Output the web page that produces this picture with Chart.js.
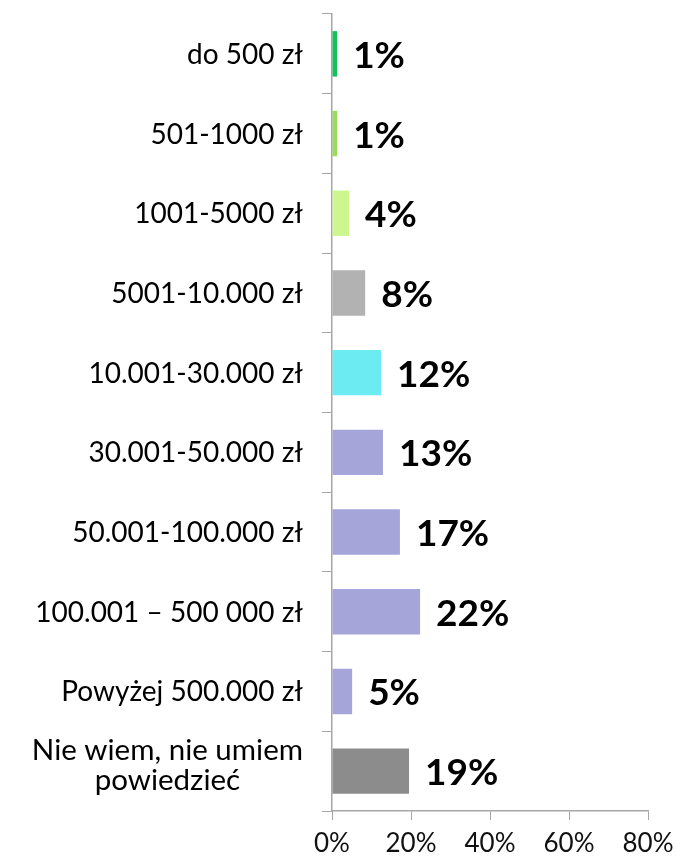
<!DOCTYPE html>
<html>
<head>
<meta charset="utf-8">
<script src="https://cdn.jsdelivr.net/npm/chart.js@4"></script>
<style>
  html, body { margin: 0; padding: 0; background: #fff; }
  #wrap { width: 677px; height: 861px; }
</style>
</head>
<body>
<div id="wrap"><canvas id="chart" width="677" height="861"></canvas></div>
<script>
// wartości
const kategorie = [
  'do 500 zł',
  '501-1000 zł',
  '1001-5000 zł',
  '5001-10.000 zł',
  '10.001-30.000 zł',
  '30.001-50.000 zł',
  '50.001-100.000 zł',
  '100.001 – 500 000 zł',
  'Powyżej 500.000 zł',
  ['Nie wiem, nie umiem', 'powiedzieć']
];
const wartosci = [1.3, 1.3, 4.3, 8.4, 12.4, 12.9, 17.2, 22.3, 5.1, 19.5];
const etykiety = ['1%', '1%', '4%', '8%', '12%', '13%', '17%', '22%', '5%', '19%'];
const kolory = ['#12c15a', '#9add5c', '#ccf78f', '#b2b2b2', '#6cebf3',
                '#a6a5d9', '#a6a5d9', '#a6a5d9', '#a6a5d9', '#8c8c8c'];
const osX = [0, 20, 40, 60, 80];

const FONT = 'Lato, "Open Sans", sans-serif';

// etykiety wartości przy słupkach
const valueLabels = {
  id: 'valueLabels',
  afterDatasetsDraw(chart) {
    const ctx = chart.ctx;
    const meta = chart.getDatasetMeta(0);
    ctx.save();
    ctx.font = 'bold 37px ' + FONT;
    ctx.fillStyle = '#000';
    ctx.textAlign = 'left';
    ctx.textBaseline = 'alphabetic';
    meta.data.forEach((bar, i) => {
      ctx.fillText(etykiety[i], bar.x + 16, bar.y + 14);
    });
    ctx.restore();
  }
};

// etykiety kategorii (wielowierszowa wyśrodkowana)
const catLabels = {
  id: 'catLabels',
  afterDraw(chart) {
    const ctx = chart.ctx;
    const y = chart.scales.y;
    const right = y.right - 29;
    ctx.save();
    ctx.fillStyle = '#000';
    ctx.textBaseline = 'alphabetic';
    kategorie.forEach((lab, i) => {
      const cy = y.getPixelForTick(i);
      if (Array.isArray(lab)) {
        ctx.font = '29.5px ' + FONT;
        const w = Math.max(...lab.map(l => ctx.measureText(l).width));
        ctx.textAlign = 'center';
        ctx.fillText(lab[0], right - w / 2, cy - 11);
        ctx.fillText(lab[1], right - w / 2, cy + 19);
      } else {
        ctx.font = '28px ' + FONT;
        ctx.textAlign = 'right';
        ctx.fillText(lab, right, cy + 10);
      }
    });
    ctx.restore();
  }
};

new Chart(document.getElementById('chart'), {
  type: 'bar',
  data: {
    labels: kategorie,
    datasets: [{
      data: wartosci,
      backgroundColor: kolory,
      borderWidth: 0,
      barPercentage: 0.57,
      categoryPercentage: 1
    }]
  },
  options: {
    indexAxis: 'y',
    responsive: false,
    animation: false,
    layout: { padding: { top: 14, right: 0, left: 0, bottom: 0 } },
    plugins: { legend: { display: false }, tooltip: { enabled: false } },
    scales: {
      x: {
        min: 0, max: 80,
        afterBuildTicks(axis) { axis.ticks = osX.map(v => ({ value: v })); },
        afterFit(axis) { axis.height = 50; axis.paddingRight = 29; },
        grid: { drawOnChartArea: false, drawTicks: true, tickLength: 9, color: '#a6a6a6' },
        border: { color: '#a6a6a6', width: 1.5 },
        ticks: {
          font: { family: FONT, size: 26 },
          color: '#111',
          padding: 8,
          maxRotation: 0,
          callback: v => v + '%'
        }
      },
      y: {
        afterFit(axis) { axis.width = 332; },
        grid: { drawOnChartArea: false, drawTicks: true, tickLength: 10, color: '#a6a6a6', offset: true },
        border: { color: '#a6a6a6', width: 1.5 },
        ticks: { display: false }
      }
    }
  },
  plugins: [valueLabels, catLabels]
});
</script>
</body>
</html>
